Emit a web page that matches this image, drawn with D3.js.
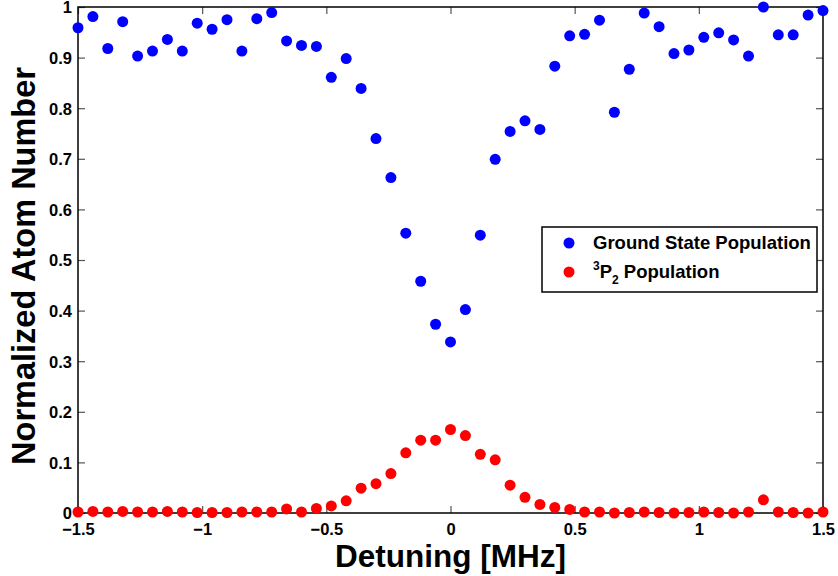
<!DOCTYPE html>
<html>
<head>
<meta charset="utf-8">
<script src="https://cdn.jsdelivr.net/npm/d3@7"></script>
<style>
  html, body { margin: 0; padding: 0; background: #fff; }
  text { font-family: "Liberation Sans", Arial, Helvetica, sans-serif; font-weight: bold; }
</style>
</head>
<body>
<svg id="chart" width="838" height="576"></svg>
<script>
// Detuning values (MHz), step 0.06 from -1.5 to 1.5
const detuning = [-1.5,-1.44,-1.38,-1.32,-1.26,-1.2,-1.14,-1.08,-1.02,-0.96,-0.9,-0.84,-0.78,-0.72,-0.66,-0.6,-0.54,-0.48,-0.42,-0.36,-0.3,-0.24,-0.18,-0.12,-0.06,0,0.06,0.12,0.18,0.24,0.3,0.36,0.42,0.48,0.54,0.6,0.66,0.72,0.78,0.84,0.9,0.96,1.02,1.08,1.14,1.2,1.26,1.32,1.38,1.44,1.5];
const groundState = [0.959,0.981,0.918,0.971,0.903,0.913,0.936,0.913,0.968,0.956,0.975,0.913,0.977,0.989,0.933,0.924,0.922,0.861,0.898,0.839,0.740,0.663,0.553,0.458,0.373,0.338,0.402,0.549,0.699,0.754,0.775,0.758,0.883,0.943,0.946,0.974,0.792,0.877,0.988,0.961,0.908,0.915,0.940,0.949,0.935,0.903,1.0,0.945,0.945,0.984,0.993];
const p2State = [0.002,0.003,0.002,0.003,0.002,0.002,0.003,0.002,0.001,0.001,0.001,0.002,0.002,0.002,0.008,0.002,0.009,0.014,0.024,0.049,0.058,0.078,0.119,0.144,0.144,0.165,0.153,0.116,0.105,0.055,0.031,0.017,0.011,0.007,0.002,0.002,0.000,0.001,0.002,0.001,0.000,0.001,0.002,0.001,0.000,0.002,0.026,0.002,0.001,0.000,0.002];
const xTicks = [-1.5,-1,-0.5,0,0.5,1,1.5];
const yTicks = [0,0.1,0.2,0.3,0.4,0.5,0.6,0.7,0.8,0.9,1];
const seriesNames = ["Ground State Population", "Population"];
const seriesColors = ["#0000ff", "#ff0000"];
const xLabel = "Detuning [MHz]";
const yLabel = "Normalized Atom Number";

const svg = d3.select("#chart");
const L = 78, R = 823, T = 7, B = 513;
const x = d3.scaleLinear().domain([-1.5, 1.5]).range([L, R]);
const y = d3.scaleLinear().domain([0, 1]).range([B, T]);

const fmt = d => (d < 0 ? "\u2212" : "") + String(Math.abs(d));

// axes (ticks inward)
const tickLen = 7;
const gx = svg.append("g").attr("transform", `translate(0,${B})`)
  .call(d3.axisBottom(x).tickValues(xTicks).tickFormat(fmt).tickSizeInner(-tickLen).tickSizeOuter(0).tickPadding(10));
const gxTop = svg.append("g").attr("transform", `translate(0,${T})`)
  .call(d3.axisTop(x).tickValues(xTicks).tickFormat("").tickSizeInner(-tickLen).tickSizeOuter(0));
const gy = svg.append("g").attr("transform", `translate(${L},0)`)
  .call(d3.axisLeft(y).tickValues(yTicks).tickFormat(fmt).tickSizeInner(-tickLen).tickSizeOuter(0).tickPadding(6));
const gyR = svg.append("g").attr("transform", `translate(${R},0)`)
  .call(d3.axisRight(y).tickValues(yTicks).tickFormat("").tickSizeInner(-tickLen).tickSizeOuter(0));

[gx, gxTop, gy, gyR].forEach(g => {
  g.select(".domain").remove();
  g.selectAll(".tick line").attr("stroke", "#555").attr("stroke-width", 1.2);
  g.selectAll("text").attr("fill", "#000").style("font-size", "16.5px").style("font-weight", "bold")
    .style("font-family", "'Liberation Sans', Arial, sans-serif");
});
gx.selectAll("text").attr("dy", "0.71em");
gy.selectAll("text").attr("dy", "0.36em");

// frame
svg.append("rect").attr("x", L).attr("y", T).attr("width", R - L).attr("height", B - T)
  .attr("fill", "none").attr("stroke", "#000").attr("stroke-width", 1.5);

// data points
const ptsG = svg.append("g");
ptsG.selectAll("circle.g").data(detuning).enter().append("circle")
  .attr("cx", d => x(d)).attr("cy", (d, i) => y(groundState[i])).attr("r", 5.5)
  .attr("fill", seriesColors[0]);
ptsG.selectAll("circle.p").data(detuning).enter().append("circle")
  .attr("cx", d => x(d)).attr("cy", (d, i) => y(p2State[i])).attr("r", 5.5)
  .attr("fill", seriesColors[1]);

// axis labels
svg.append("text").attr("x", (L + R) / 2).attr("y", 567).attr("text-anchor", "middle")
  .style("font-size", "31.5px").text(xLabel);
svg.append("text").attr("transform", `translate(35,${(T + B) / 2 + 6}) rotate(-90)`)
  .attr("text-anchor", "middle").style("font-size", "32.5px").text(yLabel);

// legend
const lg = svg.append("g");
lg.append("rect").attr("x", 542).attr("y", 227).attr("width", 275).attr("height", 65)
  .attr("fill", "#fff").attr("stroke", "#000").attr("stroke-width", 1.5);
lg.append("circle").attr("cx", 569).attr("cy", 243).attr("r", 5.5).attr("fill", seriesColors[0]);
lg.append("circle").attr("cx", 569).attr("cy", 272).attr("r", 5.5).attr("fill", seriesColors[1]);
lg.append("text").attr("x", 593).attr("y", 249).style("font-size", "18.5px").text(seriesNames[0]);
const t2 = lg.append("text").attr("x", 593).attr("y", 278).style("font-size", "18.5px");
t2.append("tspan").style("font-size", "12px").attr("dy", -8).text("3");
t2.append("tspan").attr("dy", 8).text("P");
t2.append("tspan").style("font-size", "12px").attr("dy", 6).text("2");
t2.append("tspan").attr("dy", -6).text(" " + seriesNames[1]);
</script>
</body>
</html>
